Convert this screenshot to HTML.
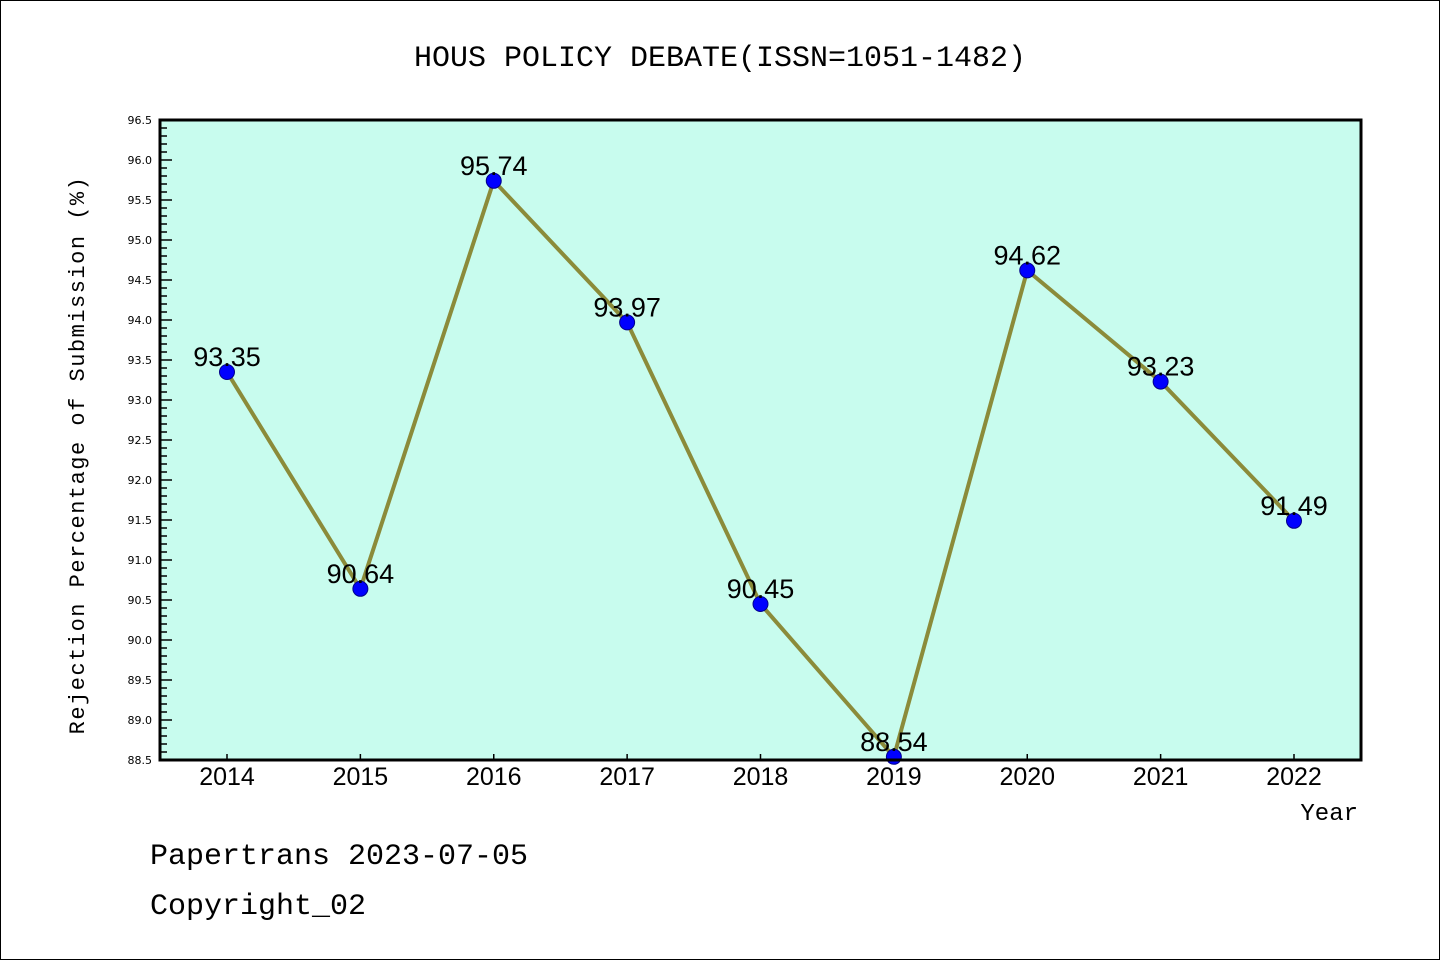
<!DOCTYPE html>
<html><head><meta charset="utf-8"><style>
html,body{margin:0;padding:0;background:#fff}
svg{display:block}
.mono{font-family:"Liberation Mono","DejaVu Sans Mono",monospace}
.sans{font-family:"Liberation Sans","DejaVu Sans",sans-serif}
.dv{font-family:"DejaVu Sans",sans-serif}
</style></head><body>
<svg id="chart" width="1440" height="960" xmlns="http://www.w3.org/2000/svg">
<rect x="0.5" y="0.5" width="1439" height="959" fill="#fff" stroke="#000" stroke-width="1"/>
<text class="mono" x="720" y="66" text-anchor="middle" font-size="30">HOUS POLICY DEBATE(ISSN=1051-1482)</text>
<rect x="160" y="120" width="1201" height="640" fill="#c8fcee"/>
<g id="axes"></g>
<g id="series"></g>
<rect x="160" y="120" width="1201" height="640" fill="none" stroke="#000" stroke-width="3"/>
<text class="mono" transform="translate(84,455) rotate(-90)" text-anchor="middle" font-size="22" letter-spacing="1.5">Rejection Percentage of Submission (%)</text>
<text class="mono" x="1358" y="820" text-anchor="end" font-size="24">Year</text>
<text class="mono" x="150" y="864" font-size="30">Papertrans 2023-07-05</text>
<text class="mono" x="150" y="914" font-size="30">Copyright_02</text>
</svg>
<script>
const years = ["2014","2015","2016","2017","2018","2019","2020","2021","2022"];
const values = [93.35,90.64,95.74,93.97,90.45,88.54,94.62,93.23,91.49];
const valueLabels = ["93.35","90.64","95.74","93.97","90.45","88.54","94.62","93.23","91.49"];
const yTicks = ["88.5","89.0","89.5","90.0","90.5","91.0","91.5","92.0","92.5","93.0","93.5","94.0","94.5","95.0","95.5","96.0","96.5"];

(function(){
const NS="http://www.w3.org/2000/svg";
const yMin=88.5,yMax=96.5,pTop=120,pBot=760,pLeft=160;
const y=v=>pBot-(v-yMin)/(yMax-yMin)*(pBot-pTop);
const x=i=>227+i*(1294-227)/(years.length-1);
function mk(t,a,p){const e=document.createElementNS(NS,t);for(const k in a)e.setAttribute(k,a[k]);p.appendChild(e);return e;}
const ax=document.getElementById('axes'), se=document.getElementById('series');
for(let k=0;k<=80;k++){const v=yMin+k*0.1;const major=k%5===0;
 const t=mk('line',{x1:pLeft,x2:pLeft+(major?12:7),y1:y(v),y2:y(v),stroke:'#000','stroke-width':1.5},ax);
 
 }
yTicks.forEach(s=>{const tx=mk('text',{x:152,y:y(parseFloat(s))+4,'text-anchor':'end','font-size':11,'class':'dv'},ax);tx.textContent=s;
 
 });
years.forEach((s,i)=>{const t=mk('line',{x1:x(i),x2:x(i),y1:pBot,y2:pBot-6,stroke:'#000','stroke-width':1.5},ax);
 
 
 const tx=mk('text',{x:x(i),y:785,'text-anchor':'middle','font-size':25,'class':'sans'},ax);tx.textContent=s;
 
 });
const pts=values.map((v,i)=>x(i)+','+y(v)).join(' ');
const ln=mk('polyline',{points:pts,fill:'none',stroke:'#8b8b3a','stroke-width':4,'stroke-linejoin':'round'},se);


values.forEach((v,i)=>{const c=mk('circle',{cx:x(i),cy:y(v),r:7.5,fill:'#0000ff',stroke:'#00008b','stroke-width':1},se);
 
 
 const tx=mk('text',{x:x(i),y:y(v)-6,'text-anchor':'middle','font-size':27,'class':'sans'},se);tx.textContent=valueLabels[i];
 
 });
})();
</script>
</body></html>
